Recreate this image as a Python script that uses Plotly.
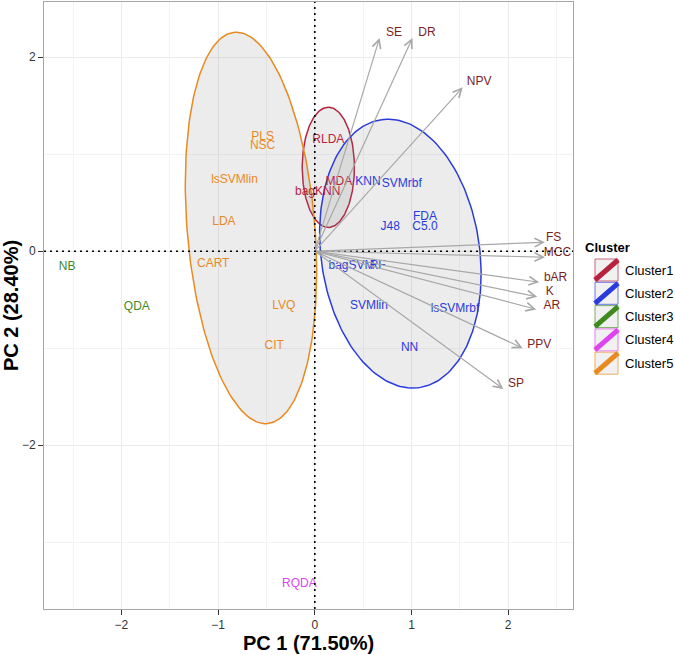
import numpy as np
import plotly.graph_objects as go

# cluster members (label text and PCA scores)
cluster_names = ["Cluster1", "Cluster2", "Cluster3", "Cluster4", "Cluster5"]
cluster_colors = ["#B7233F", "#2A3BDD", "#3F8A1F", "#DD44EE", "#E88A1F"]

c1_labels = ["RLDA", "MDA", "bagKNN"]
c1_x = [0.14, 0.25, 0.03]
c1_y = [1.15, 0.71, 0.61]

c2_labels = ["KNN", "SVMrbf", "FDA", "C5.0", "J48", "bagSVM", "RF", "SVMlin", "lsSVMrbf", "NN"]
c2_x = [0.55, 0.90, 1.14, 1.14, 0.78, 0.38, 0.65, 0.56, 1.45, 0.98]
c2_y = [0.71, 0.69, 0.35, 0.25, 0.25, -0.155, -0.155, -0.57, -0.60, -1.00]

c3_labels = ["NB", "QDA"]
c3_x = [-2.56, -1.84]
c3_y = [-0.16, -0.58]

c4_labels = ["RQDA"]
c4_x = [-0.16]
c4_y = [-3.43]

c5_labels = ["PLS", "NSC", "lsSVMlin", "LDA", "CART", "LVQ", "CIT"]
c5_x = [-0.54, -0.54, -0.83, -0.94, -1.05, -0.32, -0.42]
c5_y = [1.18, 1.08, 0.73, 0.30, -0.13, -0.56, -0.98]

# variable loadings (arrow tips) and where their labels sit
var_labels = ["SE", "DR", "NPV", "FS", "MCC", "bAR", "K", "AR", "PPV", "SP"]
var_x = [0.67, 1.01, 1.53, 2.38, 2.38, 2.32, 2.30, 2.29, 2.15, 1.95]
var_y = [2.20, 2.20, 1.69, 0.093, -0.062, -0.32, -0.47, -0.60, -1.00, -1.42]
var_lab_x = [0.82, 1.16, 1.70, 2.47, 2.51, 2.49, 2.43, 2.45, 2.32, 2.08]
var_lab_y = [2.25, 2.25, 1.75, 0.134, -0.02, -0.275, -0.42, -0.56, -0.97, -1.37]

# confidence ellipses: cluster index, centre, semi-axes, tilt of major axis (deg from vertical)
ell_cluster = [0, 1, 4]
ell_cx = [0.14, 0.885, -0.66]
ell_cy = [0.865, -0.025, 0.24]
ell_minor = [0.27, 0.82, 0.66]
ell_major = [0.62, 1.395, 2.025]
ell_tilt = [0.0, 8.0, 4.8]

clusters = [
    (c1_labels, c1_x, c1_y),
    (c2_labels, c2_x, c2_y),
    (c3_labels, c3_x, c3_y),
    (c4_labels, c4_x, c4_y),
    (c5_labels, c5_x, c5_y),
]

FONT = "Liberation Sans, Arial, sans-serif"
W, H = 675, 655
PL, PR, PT, PB = 44, 573, 2, 609


def paper_x(xp):
    return (xp - PL) / (PR - PL)


def paper_y(yp):
    return (PB - yp) / (PB - PT)


fig = go.Figure()

# ellipses
t = np.linspace(0, 2 * np.pi, 200)
for k, ci in enumerate(ell_cluster):
    th = np.deg2rad(90 + ell_tilt[k])
    ex = ell_cx[k] + ell_major[k] * np.cos(t) * np.cos(th) - ell_minor[k] * np.sin(t) * np.sin(th)
    ey = ell_cy[k] + ell_major[k] * np.cos(t) * np.sin(th) + ell_minor[k] * np.sin(t) * np.cos(th)
    fig.add_trace(go.Scatter(x=ex, y=ey, mode="lines", fill="toself",
                             fillcolor="rgba(128,128,128,0.15)",
                             line=dict(color=cluster_colors[ci], width=1.5),
                             hoverinfo="skip", showlegend=False))

# cluster labels
for ci, (labs, xs, ys) in enumerate(clusters):
    fig.add_trace(go.Scatter(x=xs, y=ys, mode="text", text=labs,
                             textposition="middle center",
                             textfont=dict(family=FONT, size=12, color=cluster_colors[ci]),
                             name=cluster_names[ci], showlegend=False))

# variable labels
fig.add_trace(go.Scatter(x=var_lab_x, y=var_lab_y, mode="text", text=var_labels,
                         textposition="middle center",
                         textfont=dict(family=FONT, size=12, color="#7A1E1E"),
                         showlegend=False))

# arrows from the origin
for vx, vy in zip(var_x, var_y):
    fig.add_annotation(x=vx, y=vy, ax=0, ay=0, xref="x", yref="y", axref="x", ayref="y",
                       text="", showarrow=True, arrowhead=5, arrowsize=1.4,
                       arrowwidth=1.2, arrowcolor="#A8A8A8")

# dotted zero lines
fig.add_shape(type="line", xref="paper", yref="y", x0=0, x1=1, y0=0, y1=0,
              line=dict(color="black", width=1.6, dash="2px,4px"))
fig.add_shape(type="line", xref="x", yref="paper", x0=0, x1=0, y0=0, y1=1,
              line=dict(color="black", width=1.6, dash="2px,4px"))

# legend drawn by hand to mimic the ggplot keys
fig.add_annotation(x=paper_x(583), y=paper_y(247), xref="paper", yref="paper",
                   text="<b>Cluster</b>", showarrow=False, xanchor="left", yanchor="middle",
                   font=dict(family=FONT, size=13, color="black"))
for i, name in enumerate(cluster_names):
    yc = 270 + 23.3 * i
    col = cluster_colors[i]
    fig.add_shape(type="rect", xref="paper", yref="paper",
                  x0=paper_x(595), x1=paper_x(618), y0=paper_y(yc + 11), y1=paper_y(yc - 11),
                  fillcolor="#ECECEC", line=dict(color=col, width=1), opacity=0.7)
    fig.add_shape(type="line", xref="paper", yref="paper",
                  x0=paper_x(595), x1=paper_x(618), y0=paper_y(yc + 10), y1=paper_y(yc - 10),
                  line=dict(color=col, width=5))
    fig.add_annotation(x=paper_x(623), y=paper_y(yc), xref="paper", yref="paper",
                       text=name, showarrow=False, xanchor="left", yanchor="middle",
                       font=dict(family=FONT, size=13, color="black"))

axis_common = dict(
    showgrid=True, gridcolor="#EBEBEB", gridwidth=1, automargin=False,
    zeroline=False, showline=True, mirror=True, linecolor="#A6A6A6", linewidth=1,
    ticks="outside", ticklen=5, tickcolor="#333333", tickwidth=1,
    tickfont=dict(family=FONT, size=12, color="#333333"),
)

fig.update_layout(
    width=W, height=H,
    margin=dict(l=PL, r=W - PR, t=PT, b=H - PB),
    plot_bgcolor="white", paper_bgcolor="white",
    showlegend=False,
    xaxis=dict(range=[-2.80, 2.67], dtick=1,
               minor=dict(dtick=0.5, showgrid=True, gridcolor="#F3F3F3", ticks=""),
               title=dict(text="<b>PC 1 (71.50%)</b>", standoff=3,
                          font=dict(family=FONT, size=20, color="black")),
               **axis_common),
    yaxis=dict(range=[-3.69, 2.57], tickvals=[-2, 0, 2],
               minor=dict(dtick=1, showgrid=True, gridcolor="#F3F3F3", ticks=""),
               title=dict(text="<b>PC 2 (28.40%)</b>", standoff=6,
                          font=dict(family=FONT, size=20, color="black")),
               **axis_common),
)

# the page body has a default 8px margin; drop it so the figure sits at the window corner
fig.write_html("out.html", config={"displayModeBar": False},
               post_script="document.body.style.margin='0';")
